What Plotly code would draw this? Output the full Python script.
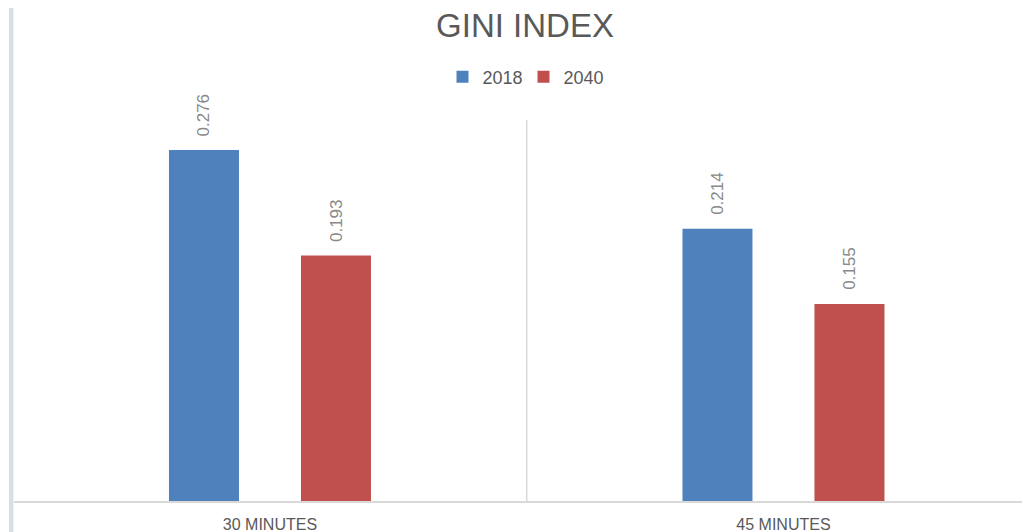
import plotly.graph_objects as go

categories = ["30 MINUTES", "45 MINUTES"]
series_names = ["2018", "2040"]
values_2018 = [0.276, 0.214]
values_2040 = [0.193, 0.155]
colors = ["#4f81bd", "#c0504d"]

# the page places the figure 8px from the top-left corner of the window
OFF = 8
W, H = 1030 - OFF, 532 - OFF
L, R, T, B = 14 - OFF, 0, 120 - OFF, 31

fig = go.Figure()
for name, vals, col in zip(series_names, [values_2018, values_2040], colors):
    fig.add_trace(go.Bar(x=categories, y=vals, name=name, marker_color=col,
                         marker_line_width=0))

# data labels (rotated), placed above each bar
offsets = [-0.1285, 0.1285]
annotations = []
for off, vals in zip(offsets, [values_2018, values_2040]):
    for i, v in enumerate(vals):
        annotations.append(dict(x=i + off, y=v, xref="x", yref="y",
                                text=f"{v:.3f}", textangle=-90, showarrow=False,
                                yanchor="bottom", xanchor="center", yshift=12,
                                font=dict(size=17, color="#898989",
                                          family="Liberation Sans, Arial, sans-serif")))

pw = W - L - R
ph = H - T - B
shapes = [
    dict(type="line", xref="x", yref="paper", x0=0.5, x1=0.5, y0=0, y1=1,
         line=dict(color="#d9d9d9", width=1.5)),
    dict(type="rect", xref="paper", yref="paper",
         x0=(9 - OFF - L) / pw, x1=(13.5 - OFF - L) / pw,
         y0=-0.3, y1=1.5,
         fillcolor="#d5dfe9", line_width=0, layer="below"),
]

fig.update_layout(
    width=W, height=H,
    margin=dict(l=L, r=R, t=T, b=B, pad=0),
    paper_bgcolor="white", plot_bgcolor="white",
    barmode="group", bargap=0.4859, bargroupgap=0.4697,
    title=dict(text="GINI INDEX", x=(525 - OFF - L) / pw, xref="paper", xanchor="center",
               y=1 - (25 - OFF) / H, yref="container", yanchor="middle",
               font=dict(size=33, color="#595959",
                         family="Liberation Sans, Arial, sans-serif")),
    legend=dict(orientation="h", x=(523.5 - OFF - L) / pw, xanchor="center",
                y=(H - B - (77 - OFF)) / ph, yanchor="middle",
                font=dict(size=18, color="#595959",
                          family="Liberation Sans, Arial, sans-serif"),
                itemwidth=30, entrywidth=36, entrywidthmode="pixels",
                bgcolor="rgba(0,0,0,0)"),
    xaxis=dict(range=[-0.4985, 1.4801], showline=True, linecolor="#d9d9d9",
               linewidth=2, showgrid=False, zeroline=False,
               ticks="outside", ticklen=8, tickcolor="rgba(0,0,0,0)",
               tickfont=dict(size=16, color="#595959",
                             family="Liberation Sans, Arial, sans-serif")),
    yaxis=dict(range=[0, 0.2996], visible=False, showgrid=False, zeroline=False),
    annotations=annotations,
    shapes=shapes,
    showlegend=True,
)

fig.write_html("out.html")
